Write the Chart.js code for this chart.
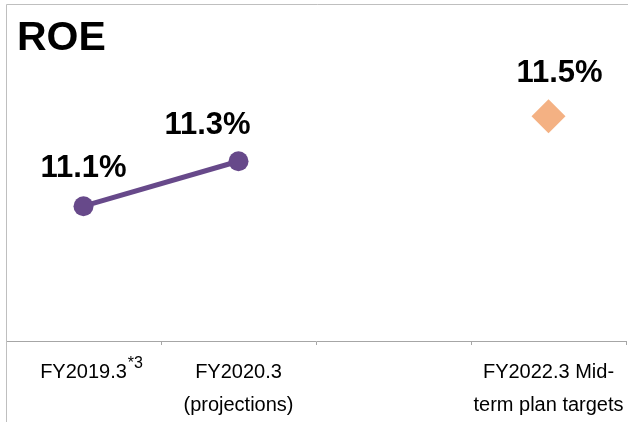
<!DOCTYPE html>
<html>
<head>
<meta charset="utf-8">
<title>ROE</title>
<script src="https://cdn.jsdelivr.net/npm/chart.js@4"></script>
<style>
	body { margin: 0; background: #fff; }
	canvas { display: block; }
</style>
</head>
<body>
<canvas id="roeChart" width="628" height="422"></canvas>
<script>
const categories = [["FY2019.3"], ["FY2020.3", "(projections)"], "", ["FY2022.3 Mid-", "term plan targets"]];
const roeResults = [11.1, 11.3, null, null];
const roeTarget = [null, null, null, 11.5];
const yRange = [10.5, 12.0];
const chartTitle = "ROE";
const footnote = "*3";

const FONT = "'Liberation Sans', Arial, sans-serif";
const ctx = document.getElementById("roeChart");

// value labels sit a bit off the markers, like in the deck
const labelShift = { 0: [0, -29], 1: [-31, -27], 3: [11, -34] };

const decorations = {
	id: "decorations",
	afterDraw: (chart) => {
		const c = chart.ctx;
		const area = chart.chartArea;
		c.save();
		// plot frame: top and left only
		c.strokeStyle = "#BFBFBF";
		c.lineWidth = 1;
		c.beginPath();
		c.moveTo(area.left + 0.5, chart.height);
		c.lineTo(area.left + 0.5, area.top + 0.5);
		c.lineTo(chart.width, area.top + 0.5);
		c.stroke();

		c.fillStyle = "#000";
		c.textAlign = "left";
		c.textBaseline = "alphabetic";
		c.font = "bold 41px " + FONT;
		c.fillText(chartTitle, area.left + 11, area.top + 46);

		// data labels
		c.font = "bold 31px " + FONT;
		c.textAlign = "center";
		chart.data.datasets.forEach((ds, di) => {
			chart.getDatasetMeta(di).data.forEach((pt, i) => {
				const v = ds.data[i];
				if (v === null) return;
				const s = labelShift[i] || [0, -30];
				c.fillText(v.toFixed(1) + "%", pt.x + s[0], pt.y + s[1]);
			});
		});

		// superscript note next to the first category
		const xs = chart.scales.x;
		c.font = "20px " + FONT;
		const w = c.measureText(categories[0][0]).width;
		c.font = "16px " + FONT;
		c.textAlign = "left";
		c.fillText(footnote, xs.getPixelForValue(0) + w / 2 + 1, area.bottom + 27);
		c.restore();
	},
};

new Chart(ctx, {
	type: "line",
	data: {
		labels: categories,
		datasets: [
			{
				label: "ROE",
				data: roeResults,
				borderColor: "#67498A",
				backgroundColor: "#67498A",
				borderWidth: 5,
				pointRadius: 10,
				pointBorderWidth: 0,
				pointBackgroundColor: "#67498A",
			},
			{
				label: "Mid-term target",
				data: roeTarget,
				showLine: false,
				pointStyle: "rectRot",
				pointRadius: 17,
				pointBorderWidth: 0,
				pointBackgroundColor: "#F4B183",
				backgroundColor: "#F4B183",
			},
		],
	},
	options: {
		responsive: false,
		animation: false,
		layout: { autoPadding: false, padding: { left: 6, right: 2, top: 4, bottom: 0 } },
		plugins: {
			legend: { display: false },
			tooltip: { enabled: false },
		},
		scales: {
			x: {
				offset: true,
				border: { display: true, color: "#A6A6A6", width: 1 },
				grid: {
					offset: true,
					drawOnChartArea: false,
					tickLength: 4,
					color: "#A6A6A6",
				},
				ticks: {
					color: "#000",
					padding: 11,
					maxRotation: 0,
					autoSkip: false,
					font: { family: FONT, size: 20, lineHeight: 1.65 },
				},
				// keep the plot full width and the label band 81px tall
				afterFit: (scale) => {
					scale.paddingLeft = 0;
					scale.paddingRight = 0;
					scale.height = 81;
				},
			},
			y: {
				display: false,
				min: yRange[0],
				max: yRange[1],
			},
		},
	},
	plugins: [decorations],
});
</script>
</body>
</html>
